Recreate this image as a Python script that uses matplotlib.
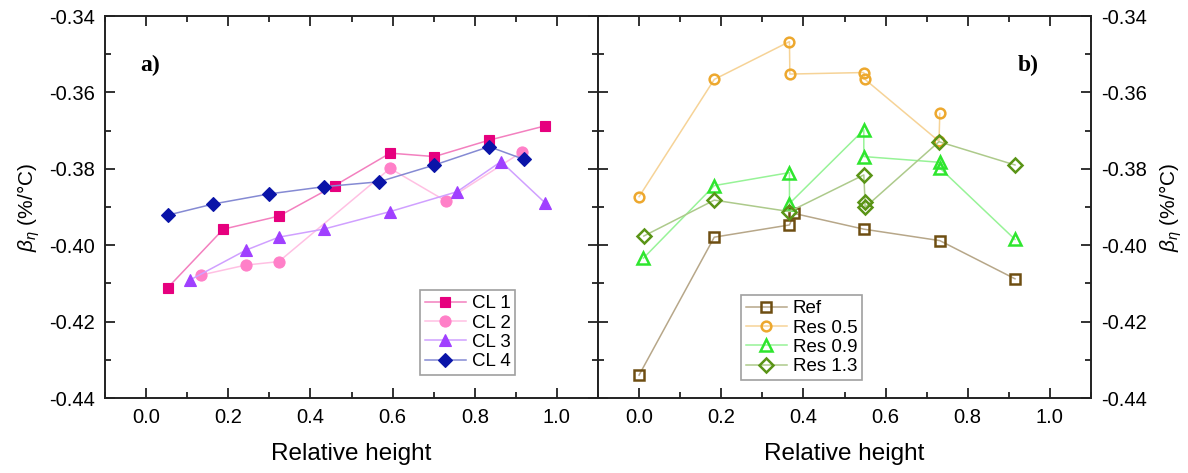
import matplotlib
matplotlib.use("Agg")
import matplotlib.pyplot as plt
from matplotlib.ticker import MultipleLocator, FormatStrFormatter
import matplotlib.colors as mcolors

plt.rcParams['font.family'] = ['Liberation Sans', 'DejaVu Sans']
plt.rcParams['mathtext.fontset'] = 'custom'
plt.rcParams['mathtext.it'] = 'Liberation Sans:italic'
plt.rcParams['mathtext.rm'] = 'Liberation Sans'

# ---------------- data ----------------
cl1_x = [0.053, 0.188, 0.323, 0.459, 0.594, 0.702, 0.835, 0.970]
cl1_y = [-0.4111, -0.3958, -0.3924, -0.3844, -0.3759, -0.3768, -0.3725, -0.3688]
cl2_x = [0.134, 0.243, 0.323, 0.594, 0.729, 0.916]
cl2_y = [-0.4078, -0.4052, -0.4043, -0.3799, -0.3884, -0.3755]
cl3_x = [0.107, 0.243, 0.323, 0.432, 0.594, 0.757, 0.864, 0.972]
cl3_y = [-0.4091, -0.4013, -0.3979, -0.3958, -0.3912, -0.3860, -0.3781, -0.3890]
cl4_x = [0.054, 0.164, 0.298, 0.432, 0.567, 0.702, 0.835, 0.919]
cl4_y = [-0.3921, -0.3892, -0.3866, -0.3847, -0.3834, -0.3790, -0.3742, -0.3775]

ref_x = [0.0, 0.183, 0.366, 0.378, 0.547, 0.732, 0.915]
ref_y = [-0.4340, -0.3979, -0.3947, -0.3917, -0.3958, -0.3988, -0.4088]
r05_x = [0.0, 0.183, 0.366, 0.367, 0.547, 0.550, 0.730, 0.732]
r05_y = [-0.3873, -0.3566, -0.3467, -0.3552, -0.3548, -0.3566, -0.3728, -0.3655]
r09_x = [0.0105, 0.183, 0.366, 0.366, 0.547, 0.547, 0.732, 0.732, 0.915]
r09_y = [-0.4034, -0.3844, -0.3810, -0.3891, -0.3698, -0.3768, -0.3783, -0.3798, -0.3985]
r13_x = [0.0115, 0.183, 0.366, 0.547, 0.550, 0.550, 0.730, 0.915]
r13_y = [-0.3976, -0.3882, -0.3912, -0.3816, -0.3886, -0.3901, -0.3729, -0.3790]

left_labels = ['CL 1', 'CL 2', 'CL 3', 'CL 4']
right_labels = ['Ref', 'Res 0.5', 'Res 0.9', 'Res 1.3']
yticks = [-0.44, -0.42, -0.40, -0.38, -0.36, -0.34]
xticks = [0.0, 0.2, 0.4, 0.6, 0.8, 1.0]

# ---------------- style ----------------
def light(c, f=0.5):
    r, g, b = mcolors.to_rgb(c)
    return (r + (1 - r) * f, g + (1 - g) * f, b + (1 - b) * f)

left_colors = ['#E6007E', '#FF80C8', '#A040FF', '#0A14A8']
left_markers = ['s', 'o', '^', 'D']
left_ms = [7.5, 8, 8.5, 7.5]
right_colors = ['#6E4E12', '#EDA82E', '#2EE62E', '#5A9416']
right_markers = ['s', 'o', '^', 'D']
right_ms = [6.5, 7, 8, 7]

W, H = 1188, 473
fig = plt.figure(figsize=(W / 100, H / 100), dpi=100)
axL = fig.add_axes([105 / W, 1 - 398 / H, 493 / W, 382 / H])
axR = fig.add_axes([598 / W, 1 - 398 / H, 493 / W, 382 / H])

spine_c = '#222222'
for ax in (axL, axR):
    ax.set_xlim(-0.1, 1.1)
    ax.set_ylim(-0.44, -0.34)
    ax.set_xticks(xticks)
    ax.set_yticks(yticks)
    ax.xaxis.set_minor_locator(MultipleLocator(0.1))
    ax.yaxis.set_minor_locator(MultipleLocator(0.01))
    ax.xaxis.set_major_formatter(FormatStrFormatter('%.1f'))
    ax.yaxis.set_major_formatter(FormatStrFormatter('%.2f'))
    ax.tick_params(which='both', direction='in', top=True, bottom=True,
                   left=True, right=True, color=spine_c, width=1.3)
    ax.tick_params(which='major', length=7, labelsize=14.5, pad=7)
    ax.tick_params(which='minor', length=4)
    for s in ax.spines.values():
        s.set_linewidth(1.4)
        s.set_color(spine_c)
    ax.set_xlabel('Relative height', fontsize=17.5, labelpad=12)

axL.tick_params(labelleft=True, labelright=False)
axR.tick_params(labelleft=False, labelright=True)
axL.set_ylabel(r'$\beta_\eta$ (%/°C)', fontsize=15, labelpad=5)
axR.yaxis.set_label_position('right')
axR.set_ylabel(r'$\beta_\eta$ (%/°C)', fontsize=15, labelpad=8, rotation=90)

left_data = [(cl1_x, cl1_y), (cl2_x, cl2_y), (cl3_x, cl3_y), (cl4_x, cl4_y)]
for (x, y), c, m, ms, lab in zip(left_data, left_colors, left_markers, left_ms, left_labels):
    axL.plot(x, y, color=light(c), lw=1.1, marker=m, ms=ms, mfc=c, mec=c,
             mew=0.8, label=lab)

right_data = [(ref_x, ref_y), (r05_x, r05_y), (r09_x, r09_y), (r13_x, r13_y)]
for (x, y), c, m, ms, lab in zip(right_data, right_colors, right_markers, right_ms, right_labels):
    axR.plot(x, y, color=light(c), lw=1.1, marker=m, ms=ms, mfc='none', mec=c,
             mew=1.8, label=lab)

leg_kw = dict(fontsize=13.5, frameon=True, fancybox=False, edgecolor='#888888',
              handlelength=2.2, handletextpad=0.3, labelspacing=0.12,
              borderpad=0.25, borderaxespad=0)
legL = axL.legend(loc='lower right', bbox_to_anchor=(0.832, 0.06), **leg_kw)
legL.get_frame().set_linewidth(1.2)
legR = axR.legend(loc='lower left', bbox_to_anchor=(0.29, 0.047), **leg_kw)
legR.get_frame().set_linewidth(1.2)

axL.text(0.071, 0.87, 'a)', transform=axL.transAxes, fontsize=17,
         fontweight='bold', family='Liberation Serif', va='center', ha='left')
axR.text(0.852, 0.87, 'b)', transform=axR.transAxes, fontsize=17,
         fontweight='bold', family='Liberation Serif', va='center', ha='left')

fig.savefig('out.png', dpi=100)
